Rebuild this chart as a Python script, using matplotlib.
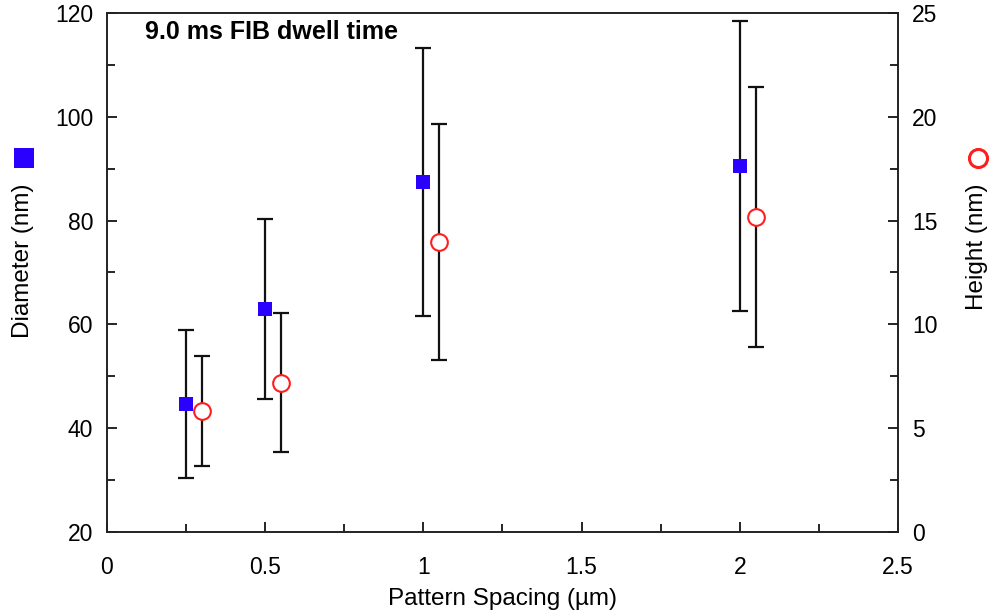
import matplotlib.pyplot as plt
from matplotlib.lines import Line2D
from matplotlib.ticker import FormatStrFormatter, MultipleLocator


plt.rcParams["font.family"] = ["Liberation Sans", "DejaVu Sans"]

# diameter series (left axis)
spacing_diameter = [0.25, 0.5, 1.0, 2.0]
diameter = [44.7, 63.0, 87.4, 90.5]
diameter_err = [14.3, 17.3, 25.8, 28.0]

# height series (right axis)
spacing_height = [0.3, 0.55, 1.05, 2.05]
height = [5.83, 7.18, 13.97, 15.17]
height_err = [2.65, 3.35, 5.7, 6.25]

title_text = "9.0 ms FIB dwell time"
x_label = "Pattern Spacing (µm)"
left_label = "Diameter (nm)"
right_label = "Height (nm)"

blue = "#2a00ff"
red = "#ff1e1e"


def style_axis(axis):
    axis.tick_params(
        which="both",
        direction="in",
        labelsize=16.5,
        pad=10,
        width=1.2,
    )
    axis.tick_params(which="major", length=7)
    axis.tick_params(which="minor", length=6)


figure = plt.figure(figsize=(9.95, 6.15), dpi=100)
ax = figure.add_axes([0.1075, 0.135, 0.795, 0.844])
ax_right = ax.twinx()

ax.errorbar(
    spacing_diameter,
    diameter,
    yerr=diameter_err,
    fmt="none",
    ecolor="#111111",
    elinewidth=1.6,
    capsize=5.5,
    capthick=1.6,
)
ax.plot(
    spacing_diameter,
    diameter,
    "s",
    color=blue,
    markersize=9.5,
    markeredgewidth=0,
    zorder=5,
)

ax_right.errorbar(
    spacing_height,
    height,
    yerr=height_err,
    fmt="none",
    ecolor="#111111",
    elinewidth=1.6,
    capsize=5.5,
    capthick=1.6,
)
ax_right.plot(
    spacing_height,
    height,
    "o",
    markerfacecolor="white",
    markeredgecolor=red,
    markeredgewidth=1.5,
    markersize=12,
    zorder=5,
)

ax.set_xlim(0, 2.5)
ax.set_ylim(20, 120)
ax_right.set_ylim(0, 25)

ax.xaxis.set_major_locator(MultipleLocator(0.5))
ax.xaxis.set_minor_locator(MultipleLocator(0.25))
ax.xaxis.set_major_formatter(FormatStrFormatter("%g"))
ax.yaxis.set_major_locator(MultipleLocator(20))
ax.yaxis.set_minor_locator(MultipleLocator(10))
ax_right.yaxis.set_major_locator(MultipleLocator(5))
ax_right.yaxis.set_minor_locator(MultipleLocator(2.5))

style_axis(ax)
style_axis(ax_right)
ax.tick_params(top=False, right=False)
ax.tick_params(axis="x", pad=17)

for spine in list(ax.spines.values()) + list(ax_right.spines.values()):
    spine.set_linewidth(1.2)
    spine.set_color("#222222")

ax.text(
    0.048,
    0.963,
    title_text,
    transform=ax.transAxes,
    fontsize=18,
    fontweight="bold",
    va="center",
    ha="left",
)

ax.set_xlabel(x_label, fontsize=17.5, labelpad=7)

figure.text(
    0.023, 1 - 261 / 615, left_label,
    rotation=90, fontsize=17.5, ha="center", va="center",
)
figure.text(
    0.982, 1 - 247 / 615, right_label,
    rotation=90, fontsize=17.5, ha="center", va="center",
)
figure.add_artist(
    Line2D(
        [0.0245], [1 - 158 / 615],
        marker="s", color=blue, markersize=14, markeredgewidth=0,
        transform=figure.transFigure,
    )
)
figure.add_artist(
    Line2D(
        [0.983], [1 - 158 / 615],
        marker="o", markerfacecolor="white", markeredgecolor=red,
        markeredgewidth=2.2, markersize=13,
        transform=figure.transFigure,
    )
)

figure.savefig("out.png", dpi=100)
